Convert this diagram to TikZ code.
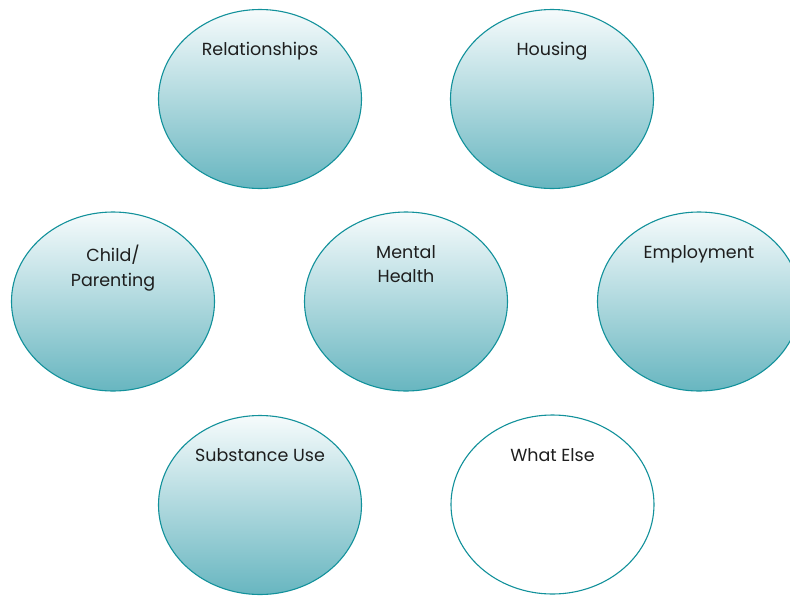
\documentclass[tikz,border=0pt]{standalone}
\usepackage{fontspec}
\setmainfont{Poppins}
\usetikzlibrary{shapes.geometric}
\definecolor{rim}{RGB}{18,145,155}
\definecolor{topc}{RGB}{246,251,252}
\definecolor{botc}{RGB}{104,182,192}
\definecolor{txt}{RGB}{30,30,30}
\tikzset{
  bubble/.style={ellipse, draw=rim, line width=1.1pt, minimum width=203pt, minimum height=179pt, inner sep=0pt},
  shaded bubble/.style={bubble, top color=topc, bottom color=botc},
  plain bubble/.style={bubble, fill=white},
  caption/.style={anchor=north, align=center, font=\fontsize{17.5}{24.5}\selectfont, text=txt, inner sep=0pt}
}
\begin{document}
\begin{tikzpicture}[x=1pt,y=1pt]
\useasboundingbox (0,0) rectangle (790,-595);
\fill[white] (0,0) rectangle (790,-595);
\node[shaded bubble] (rel) at (260,-99) {};
\node[shaded bubble] (hou) at (552,-99) {};
\node[shaded bubble] (chi) at (113,-301.5) {};
\node[shaded bubble] (men) at (406,-301.5) {};
\node[shaded bubble] (emp) at (699,-301.5) {};
\node[shaded bubble] (sub) at (260,-505) {};
\node[plain bubble] (wha) at (552.5,-504.5) {};
\node[caption] (trel) at ([yshift=-33.5pt]rel.north) {Relationships};
\node[caption] (thou) at ([yshift=-33.5pt]hou.north) {Housing};
\node[caption] (tchi) at ([yshift=-33.5pt]chi.north) {Child/\\Parenting};
\node[caption] (tmen) at ([yshift=-33.5pt]men.north) {Mental\\Health};
\node[caption] (temp) at ([yshift=-33.5pt]emp.north) {Employment};
\node[caption] (tsub) at ([yshift=-33.5pt]sub.north) {Substance Use};
\node[caption] (twha) at ([yshift=-33.5pt]wha.north) {What Else};
\end{tikzpicture}
\end{document}
